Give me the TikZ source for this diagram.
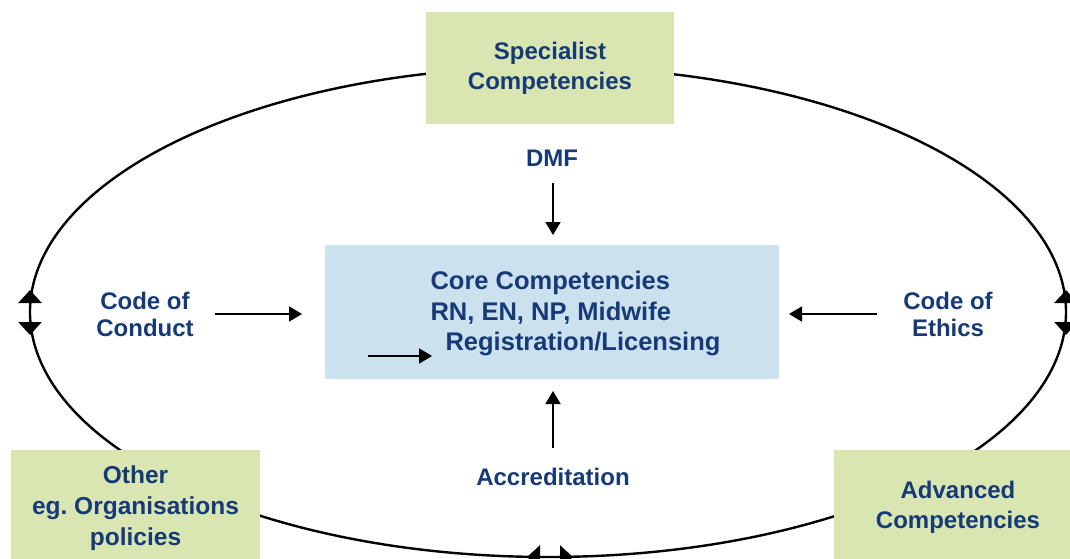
\documentclass[tikz,border=0pt]{standalone}
\usepackage{fontspec}
\setmainfont{Liberation Sans}
\usetikzlibrary{arrows.meta}
\definecolor{boxgreen}{HTML}{D9E6B1}
\definecolor{boxblue}{HTML}{CCE1EE}
\definecolor{navy}{HTML}{163A78}
\frenchspacing
\begin{document}
\begin{tikzpicture}[x=1pt,y=-1pt,
  lbl/.style={text=navy,font=\fontsize{24}{30}\selectfont\bfseries,align=center,inner sep=0pt},
  tight/.style={lbl,font=\fontsize{24}{27}\selectfont\bfseries},
  flow/.style={line width=1.8pt,-{Triangle[length=13pt,width=15pt]}},
  ring/.style={line width=2.4pt},
  ringtips/.style={line width=2.4pt,{Triangle[length=13pt,width=23pt]}-{Triangle[length=13pt,width=23pt]}}]
\useasboundingbox (0,0) rectangle (1070,559);

% outer ring
\draw[ring] (548,312) ellipse [x radius=518, y radius=245];

% arrow marks on the ring
\coordinate (lt) at (30,290);  \coordinate (lb) at (30,335);
\coordinate (rt) at (1066,290); \coordinate (rb) at (1066,335);
\coordinate (bl) at (527,557); \coordinate (br) at (573,557);
\draw[ringtips] (lt) -- (lb);
\draw[ringtips] (rt) -- (rb);
\draw[ringtips] (bl) -- (br);

% boxes
\node[fill=boxgreen,minimum width=248pt,minimum height=112pt,inner sep=0pt] (spec) at (550,68) {};
\node[lbl] at (550,68) {Specialist\\Competencies};

\node[fill=boxblue,minimum width=454pt,minimum height=134pt,inner sep=0pt] (core) at (552,312) {};
\node[lbl,align=left,font=\fontsize{25.5}{30.5}\selectfont\bfseries] (coretext) at (575.5,313.5)
  {Core Competencies\\RN, EN, NP, Midwife\\\hspace*{15pt}Registration/Licensing};

\node[fill=boxgreen,minimum width=249pt,minimum height=112pt,inner sep=0pt] (other) at (135.5,506) {};
\node[lbl,font=\fontsize{24.5}{31}\selectfont\bfseries] at (135.5,508) {Other\\eg.\ Organisations\\policies};

\node[fill=boxgreen,minimum width=236pt,minimum height=112pt,inner sep=0pt] (adv) at (952,506) {};
\node[lbl] at (958,507) {Advanced\\Competencies};

% side labels
\node[lbl] (dmf) at (552,158) {DMF};
\node[tight] (conduct) at (145,314) {Code of\\Conduct};
\node[tight] (ethics) at (948,314) {Code of\\Ethics};
\node[lbl] (accr) at (553,477) {Accreditation};

% arrows into the core
\coordinate (dmfA) at (553,183);  \coordinate (dmfB) at (553,235);
\coordinate (conA) at (215,314);  \coordinate (conB) at (302,314);
\coordinate (ethA) at (877,314);  \coordinate (ethB) at (789,314);
\coordinate (accA) at (553,448);  \coordinate (accB) at (553,391);
\coordinate (inA) at (368,356);   \coordinate (inB) at (432,356);
\draw[flow] (dmfA) -- (dmfB);
\draw[flow] (conA) -- (conB);
\draw[flow] (ethA) -- (ethB);
\draw[flow] (accA) -- (accB);
\draw[flow] (inA) -- (inB);
\end{tikzpicture}
\end{document}
